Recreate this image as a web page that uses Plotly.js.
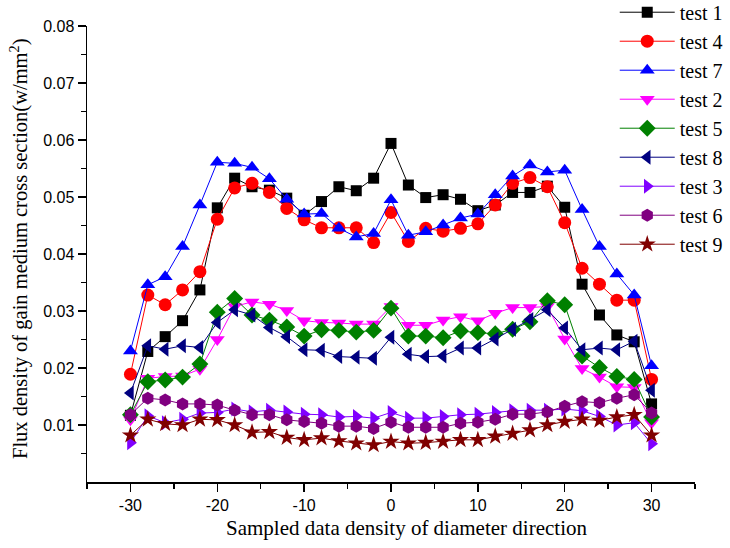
<!DOCTYPE html>
<html>
<head>
<meta charset="utf-8">
<script src="https://cdn.plot.ly/plotly-3.0.1.min.js"></script>
<style>html,body{margin:0;padding:0;background:#fff;}#chart{width:730px;height:548px;}</style>
</head>
<body>
<div id="chart"></div>
<script>
const xValues = [-30,-28,-26,-24,-22,-20,-18,-16,-14,-12,-10,-8,-6,-4,-2,0,2,4,6,8,10,12,14,16,18,20,22,24,26,28,30];

const test1 = [0.0117,0.0229,0.0255,0.0283,0.0337,0.0481,0.0533,0.0518,0.0512,0.0498,0.0468,0.0492,0.0518,0.0511,0.0533,0.0594,0.0521,0.0499,0.0504,0.0496,0.0476,0.0486,0.0508,0.0508,0.0519,0.0482,0.0347,0.0293,0.0258,0.0246,0.0137];
const test4 = [0.0189,0.0328,0.0311,0.0337,0.0369,0.0461,0.0516,0.0524,0.0508,0.0480,0.0460,0.0446,0.0446,0.0446,0.0420,0.0473,0.0422,0.0445,0.0440,0.0445,0.0453,0.0486,0.0524,0.0534,0.0518,0.0455,0.0375,0.0347,0.0319,0.0319,0.0180];
const test7 = [0.0230,0.0346,0.0360,0.0413,0.0486,0.0561,0.0559,0.0552,0.0532,0.0496,0.0470,0.0471,0.0445,0.0430,0.0436,0.0495,0.0433,0.0439,0.0451,0.0463,0.0470,0.0504,0.0537,0.0556,0.0544,0.0547,0.0478,0.0413,0.0365,0.0328,0.0204];
const test2 = [0.0109,0.0182,0.0185,0.0186,0.0198,0.0250,0.0308,0.0316,0.0312,0.0301,0.0283,0.0280,0.0279,0.0277,0.0277,0.0308,0.0275,0.0275,0.0284,0.0290,0.0283,0.0296,0.0306,0.0306,0.0308,0.0251,0.0199,0.0184,0.0167,0.0166,0.0104];
const test5 = [0.0118,0.0176,0.0179,0.0184,0.0207,0.0298,0.0322,0.0293,0.0284,0.0272,0.0256,0.0267,0.0266,0.0263,0.0266,0.0305,0.0256,0.0256,0.0253,0.0265,0.0262,0.0260,0.0268,0.0281,0.0318,0.0311,0.0221,0.0201,0.0185,0.0180,0.0114];
const test8 = [0.0156,0.0239,0.0233,0.0239,0.0236,0.0280,0.0302,0.0293,0.0271,0.0255,0.0232,0.0231,0.0220,0.0219,0.0217,0.0254,0.0224,0.0220,0.0221,0.0235,0.0235,0.0251,0.0268,0.0285,0.0302,0.0270,0.0232,0.0235,0.0232,0.0247,0.0161];
const test3 = [0.0069,0.0116,0.0104,0.0110,0.0121,0.0122,0.0128,0.0123,0.0126,0.0123,0.0119,0.0118,0.0114,0.0115,0.0112,0.0122,0.0112,0.0112,0.0115,0.0118,0.0119,0.0122,0.0125,0.0126,0.0126,0.0128,0.0125,0.0115,0.0100,0.0104,0.0067];
const test6 = [0.0118,0.0147,0.0144,0.0137,0.0137,0.0135,0.0126,0.0118,0.0118,0.0109,0.0106,0.0103,0.0098,0.0098,0.0094,0.0105,0.0096,0.0096,0.0096,0.0103,0.0105,0.0110,0.0119,0.0119,0.0123,0.0133,0.0141,0.0139,0.0147,0.0153,0.0121];
const test9 = [0.0082,0.0110,0.0102,0.0100,0.0110,0.0109,0.0100,0.0087,0.0088,0.0078,0.0074,0.0077,0.0072,0.0068,0.0065,0.0071,0.0068,0.0069,0.0071,0.0074,0.0074,0.0080,0.0085,0.0091,0.0100,0.0106,0.0110,0.0108,0.0114,0.0118,0.0082];

const seriesNames = ["test 1","test 4","test 7","test 2","test 5","test 8","test 3","test 6","test 9"];
const seriesData = [test1,test4,test7,test2,test5,test8,test3,test6,test9];
const colors = ["#000000","#FF0000","#0000FF","#FF00FF","#008000","#000080","#8000FF","#800080","#800000"];
const symbols = ["square","circle","triangle-up","triangle-down","diamond","triangle-left","triangle-right","hexagon","star"];
const sizes = [11,13,13,13,13,13,13,13,13];

const yTickVals = [0.01,0.02,0.03,0.04,0.05,0.06,0.07,0.08];
const yTickText = ["0.01","0.02","0.03","0.04","0.05","0.06","0.07","0.08"];
const xTickVals = [-30,-20,-10,0,10,20,30];
const xTickText = ["-30","-20","-10","0","10","20","30"];

const serif = "Liberation Serif, Times New Roman, serif";
const sans = "Liberation Sans, Arial, sans-serif";

const traces = seriesData.map((ys, i) => ({
  x: xValues,
  y: ys,
  name: seriesNames[i],
  type: "scatter",
  mode: "lines+markers",
  line: {color: colors[i], width: 1},
  marker: {symbol: symbols[i], color: colors[i], size: sizes[i], line: {width: 0}},
  cliponaxis: false
}));

const layout = {
  width: 730,
  height: 548,
  margin: {l: 87, r: 35, t: 26, b: 66, autoexpand: false},
  paper_bgcolor: "#ffffff",
  plot_bgcolor: "#ffffff",
  showlegend: true,
  legend: {
    x: 0.868, y: 1.073, xanchor: "left", yanchor: "top",
    font: {family: serif, size: 20, color: "#000"},
    bgcolor: "rgba(0,0,0,0)",
    itemwidth: 55,
    tracegroupgap: 0,
    maxheight: 0.9
  },
  xaxis: {
    range: [-35, 35],
    tickmode: "array", tickvals: xTickVals, ticktext: xTickText,
    ticks: "outside", ticklen: 8, tickwidth: 1.5, tickcolor: "#000",
    minor: {tickmode: "linear", tick0: -35, dtick: 5, ticks: "outside", ticklen: 5, tickwidth: 1.5, tickcolor: "#000"},
    showline: true, linecolor: "#000", linewidth: 1.5,
    showgrid: false, zeroline: false,
    tickfont: {family: sans, size: 16, color: "#000"}
  },
  yaxis: {
    range: [0, 0.08],
    tickmode: "array", tickvals: yTickVals, ticktext: yTickText,
    ticks: "outside", ticklen: 8, tickwidth: 1.5, tickcolor: "#000",
    minor: {tickmode: "linear", tick0: 0.005, dtick: 0.01, ticks: "outside", ticklen: 5, tickwidth: 1.5, tickcolor: "#000"},
    showline: true, linecolor: "#000", linewidth: 1.5,
    showgrid: false, zeroline: false,
    tickfont: {family: sans, size: 16, color: "#000"}
  },
  annotations: [{
    text: "Flux density of gain medium cross section(w/mm<sup>2</sup>)",
    xref: "paper", yref: "paper",
    x: -0.112, y: 0.513, xanchor: "center", yanchor: "middle",
    textangle: -90, showarrow: false,
    font: {family: serif, size: 20.5, color: "#000"}
  }, {
    text: "Sampled data density of diameter direction",
    xref: "paper", yref: "paper",
    x: 0.525, y: -0.101, xanchor: "center", yanchor: "middle",
    showarrow: false,
    font: {family: serif, size: 21, color: "#000"}
  }]
};

Plotly.newPlot("chart", traces, layout, {displayModeBar: false, staticPlot: true});
</script>
</body>
</html>
